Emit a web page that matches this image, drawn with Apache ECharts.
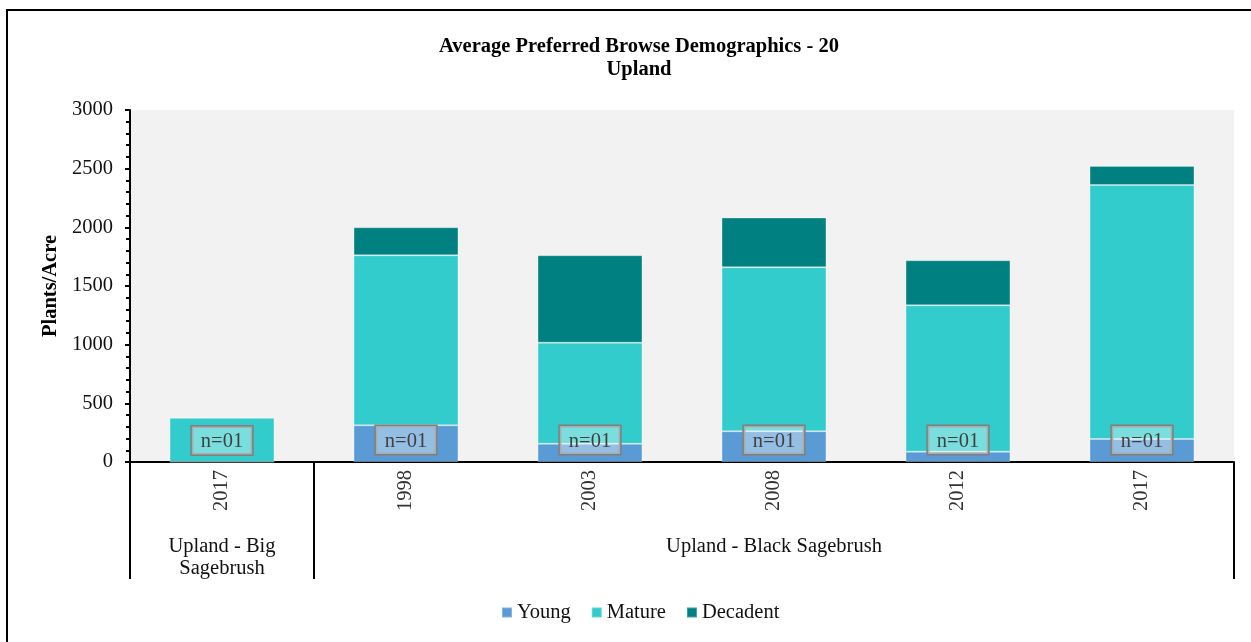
<!DOCTYPE html>
<html>
<head>
<meta charset="utf-8">
<script src="https://cdn.jsdelivr.net/npm/echarts@6/dist/echarts.min.js"></script>
<style>
  html, body { margin: 0; padding: 0; background: #fff; }
  #chart { width: 1251px; height: 642px; }
</style>
</head>
<body>
<div id="chart"></div>
<script>
// Survey years along the axis, grouped by site type
const years = ['2017', '1998', '2003', '2008', '2012', '2017'];
const groupNames = ['Upland - Big\nSagebrush', 'Upland - Black Sagebrush'];
const groupSpans = [1, 5];

// Plants per acre by age class
const young = [0, 313, 155, 262, 88, 196];
const mature = [377, 1449, 862, 1398, 1248, 2165];
const decadent = [0, 238, 745, 423, 383, 162];

// Sample counts shown at the base of each bar
const sampleLabels = ['n=01', 'n=01', 'n=01', 'n=01', 'n=01', 'n=01'];

const yTicks = [0, 500, 1000, 1500, 2000, 2500, 3000];

// Group boundaries and centres on a 0..N value scale aligned with the categories
const groupEdges = [0];
groupSpans.forEach(s => groupEdges.push(groupEdges[groupEdges.length - 1] + s));
const groupCentres = groupSpans.map((s, i) => groupEdges[i] + s / 2);

const FONT = 'Liberation Serif';
const FS = 20.5;

const chart = echarts.init(document.getElementById('chart'));

const base = {
  type: 'bar',
  stack: 'total',
  barCategoryGap: '43%',
  itemStyle: { borderColor: 'rgba(255,255,255,0.25)', borderWidth: 1 }
};

chart.setOption({
  animation: false,
  backgroundColor: '#fff',
  textStyle: { fontFamily: FONT },
  title: {
    text: 'Average Preferred Browse Demographics - 20\nUpland',
    left: 634,
    textAlign: 'center',
    top: 30,
    textStyle: { fontFamily: FONT, fontWeight: 'bold', fontSize: 20.5, lineHeight: 23, color: '#000' }
  },
  legend: {
    bottom: 14,
    left: 496,
    icon: 'rect',
    itemWidth: 10,
    itemHeight: 10,
    itemGap: 20,
    textStyle: { fontFamily: FONT, fontSize: FS, color: '#111' },
    data: ['Young', 'Mature', 'Decadent']
  },
  grid: {
    left: 130, right: 17, top: 110, bottom: 180,
    show: true, backgroundColor: '#f2f2f2', borderWidth: 0
  },
  graphic: [{
    type: 'rect',
    shape: { x: 7, y: 10, width: 1400, height: 800 },
    style: { fill: 'none', stroke: '#000', lineWidth: 2 },
    silent: true
  }],
  xAxis: [{
    type: 'category',
    data: years,
    position: 'bottom',
    axisLine: { show: true, lineStyle: { color: '#000', width: 2 } },
    axisTick: { show: false },
    axisLabel: { rotate: 90, margin: 8, fontFamily: FONT, fontSize: FS, color: '#333' },
    splitLine: { show: false }
  }, {
    type: 'value',
    min: 0,
    max: groupEdges[groupEdges.length - 1],
    position: 'bottom',
    axisLine: { show: false },
    axisTick: {
      show: true, inside: false, length: 117,
      customValues: groupEdges,
      lineStyle: { color: '#000', width: 2 }
    },
    axisLabel: {
      show: true,
      customValues: groupCentres,
      margin: 74,
      verticalAlign: 'top',
      fontFamily: FONT, fontSize: FS, lineHeight: 22, color: '#111', align: 'center',
      formatter: v => {
        const i = groupCentres.indexOf(v);
        return i >= 0 ? groupNames[i] : '';
      }
    },
    splitLine: { show: false }
  }],
  yAxis: {
    type: 'value',
    min: 0, max: 3000, interval: 500,
    name: 'Plants/Acre',
    nameLocation: 'middle',
    nameGap: 61,
    nameRotate: 90,
    nameTextStyle: { fontFamily: FONT, fontWeight: 'bold', fontSize: 20.5, color: '#000' },
    axisLine: { show: true, lineStyle: { color: '#000', width: 2 } },
    axisTick: { show: true, length: 5, lineStyle: { color: '#000', width: 2 } },
    minorTick: { show: true, splitNumber: 5, length: 4, lineStyle: { color: '#000', width: 2 } },
    axisLabel: {
      margin: 17, fontFamily: FONT, fontSize: FS, color: '#111',
      customValues: yTicks,
      formatter: v => String(v)
    },
    splitLine: { show: false }
  },
  series: [
    Object.assign({}, base, {
      name: 'Young',
      data: young,
      itemStyle: Object.assign({}, base.itemStyle, { color: '#5b9bd5' }),
      label: {
        show: true,
        position: 'insideBottom',
        distance: 8,
        formatter: p => sampleLabels[p.dataIndex],
        fontFamily: FONT,
        fontSize: FS,
        color: '#404040',
        backgroundColor: 'rgba(255,255,255,0.35)',
        borderColor: '#7f7f7f',
        borderWidth: 1.5,
        padding: [5, 9, 2, 9]
      },
      z: 3
    }),
    Object.assign({}, base, {
      name: 'Mature',
      data: mature,
      itemStyle: Object.assign({}, base.itemStyle, { color: '#33cccc' }),
      z: 2
    }),
    Object.assign({}, base, {
      name: 'Decadent',
      data: decadent,
      itemStyle: Object.assign({}, base.itemStyle, { color: '#008080' }),
      z: 2
    })
  ]
});
</script>
</body>
</html>
